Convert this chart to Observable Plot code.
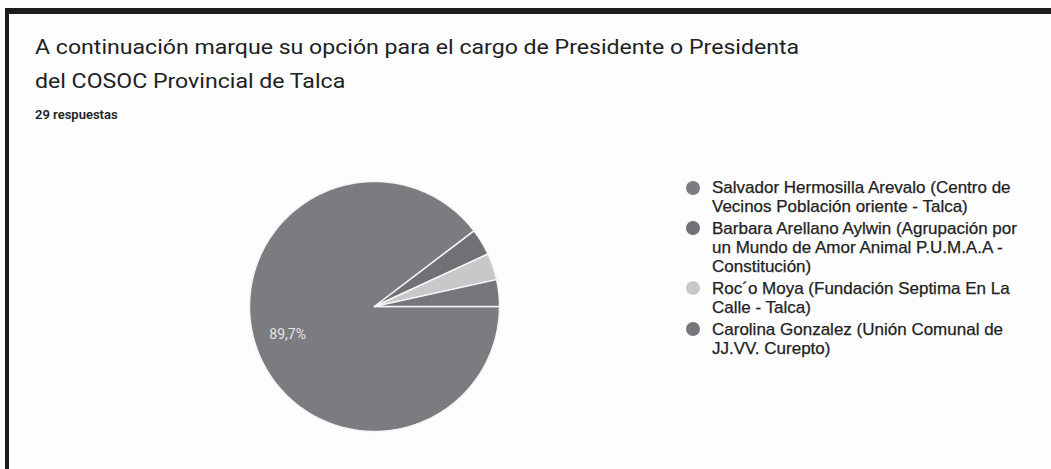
<!DOCTYPE html>
<html>
<head>
<meta charset="utf-8">
<script src="https://cdn.jsdelivr.net/npm/d3@7"></script>
<script src="https://cdn.jsdelivr.net/npm/@observablehq/plot@0.6"></script>
<style>
  html, body { margin: 0; padding: 0; background: #fdfdfd; }
  #page { position: relative; width: 1051px; height: 469px; overflow: hidden; background: #fdfdfd; font-family: Roboto, "Liberation Sans", Arial, sans-serif; }
  #frame { position: absolute; left: 5px; top: 8px; right: 0; bottom: 0; border-top: 6px solid #1c1c1c; border-left: 4px solid #1c1c1c; }
  #title { position: absolute; left: 35px; top: 30px; font-size: 20px; line-height: 34px; color: #202124; transform: scaleX(1.155); transform-origin: 0 0; white-space: nowrap; }
  #sub { position: absolute; left: 35px; top: 107px; font-size: 13px; font-weight: 600; color: #202124; }
  #chart { position: absolute; left: 0; top: 150px; }
  #legend { position: absolute; left: 686px; top: 178px; width: 365px; font-family: "Liberation Sans", Arial, sans-serif; font-size: 17px; line-height: 19.3px; color: #222; -webkit-text-stroke: 0.25px #222; white-space: nowrap; }
  .item { position: relative; padding-left: 26px; margin-bottom: 2.2px; }
  .sw { position: absolute; left: 0; top: 2.5px; width: 14px; height: 14px; border-radius: 50%; }
</style>
</head>
<body>
<div id="page">
  <div id="frame"></div>
  <div id="title">A continuación marque su opción para el cargo de Presidente o Presidenta<br>del COSOC Provincial de Talca</div>
  <div id="sub">29 respuestas</div>
  <div id="chart"></div>
  <div id="legend"></div>
</div>
<script>
const categories = [
  "Salvador Hermosilla Arevalo (Centro de Vecinos Población oriente - Talca)",
  "Barbara Arellano Aylwin (Agrupación por un Mundo de Amor Animal P.U.M.A.A - Constitución)",
  "Roc´o Moya (Fundación Septima En La Calle - Talca)",
  "Carolina Gonzalez (Unión Comunal de JJ.VV. Curepto)"
];
const legendLabels = [
  "Salvador Hermosilla Arevalo (Centro de<br>Vecinos Población oriente - Talca)",
  "Barbara Arellano Aylwin (Agrupación por<br>un Mundo de Amor Animal P.U.M.A.A -<br>Constitución)",
  "Roc´o Moya (Fundación Septima En La<br>Calle - Talca)",
  "Carolina Gonzalez (Unión Comunal de<br>JJ.VV. Curepto)"
];
const votes = [26, 1, 1, 1];
const colors = ["#7a7c7f", "#6f7174", "#c6c8ca", "#747679"];
const sliceLabels = ["89,7%", "", "", ""];

const total = d3.sum(votes);
// build slice outlines from the values (start at 3 o'clock, clockwise)
const pts = [];
const labels = [];
let acc = 0;
votes.forEach((v, i) => {
  const a0 = acc / total * 2 * Math.PI;
  const a1 = (acc + v) / total * 2 * Math.PI;
  pts.push({cat: categories[i], x: 0, y: 0});
  const n = Math.max(2, Math.ceil((a1 - a0) / 0.01));
  for (let k = 0; k <= n; k++) {
    const a = a0 + (a1 - a0) * k / n;
    pts.push({cat: categories[i], x: Math.cos(a), y: Math.sin(a)});
  }
  if (sliceLabels[i]) {
    const am = (a0 + a1) / 2;
    labels.push({text: sliceLabels[i], x: 0.7 * Math.cos(am), y: 0.7 * Math.sin(am)});
  }
  acc += v;
});

const chart = Plot.plot({
  width: 1051,
  height: 319,
  margin: 0,
  x: {domain: [-1, 1], range: [249, 499], axis: null},
  y: {domain: [-1, 1], range: [31, 281], axis: null},
  color: {domain: categories, range: colors},
  style: {background: "transparent", fontFamily: "Roboto, 'Liberation Sans', Arial, sans-serif"},
  marks: [
    Plot.line(pts, {x: "x", y: "y", z: "cat", fill: "cat", stroke: "#f4f4f4", strokeWidth: 1.5, curve: "linear-closed"}),
    Plot.text(labels, {x: "x", y: "y", text: "text", fill: "#e6e6e6", fontSize: 14, dx: -4})
  ]
});
document.getElementById("chart").appendChild(chart);

const leg = document.getElementById("legend");
categories.forEach((c, i) => {
  const div = document.createElement("div");
  div.className = "item";
  div.innerHTML = `<span class="sw" style="background:${colors[i]}"></span>${legendLabels[i]}`;
  leg.appendChild(div);
});
</script>
</body>
</html>
